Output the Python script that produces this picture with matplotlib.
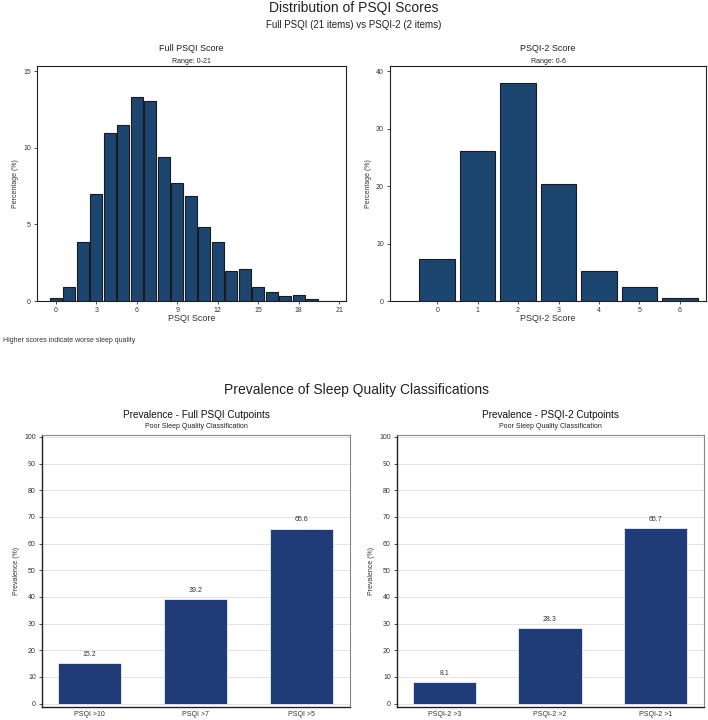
import numpy as np
import matplotlib
matplotlib.use("Agg")
import matplotlib.pyplot as plt

plt.rcParams['font.family'] = ['Liberation Sans', 'DejaVu Sans']

# score distributions (% of sample)
psqi_scores = list(range(0, 22))
psqi_pct = [0.17, 0.9, 3.83, 6.96, 10.98, 11.5, 13.28, 13.04, 9.41, 7.7, 6.87,
            4.83, 3.87, 1.98, 2.11, 0.91, 0.61, 0.30, 0.39, 0.13, 0.03, 0.0]
psqi2_scores = list(range(0, 7))
psqi2_pct = [7.36, 26.09, 37.86, 20.4, 5.28, 2.43, 0.52]

# prevalence by cutpoint
full_labels = ['PSQI >10', 'PSQI >7', 'PSQI >5']
full_prev = [15.2, 39.2, 65.6]
short_labels = ['PSQI-2 >3', 'PSQI-2 >2', 'PSQI-2 >1']
short_prev = [8.1, 28.3, 65.7]

W, H = 708, 720
TOP_COL = '#1c4670'
BOT_COL = '#1f3c78'


def px_axes(fig, x0, y0, x1, y1):
    return fig.add_axes([x0 / W, 1 - y1 / H, (x1 - x0) / W, (y1 - y0) / H])


def hist_panel(ax, x, y, title, sub, xlabel, xlim, ylim, xticks, yticks):
    ax.bar(x, y, width=0.88, color=TOP_COL, edgecolor='#1a1a1a', linewidth=0.8)
    ax.set_xlim(*xlim)
    ax.set_ylim(*ylim)
    ax.set_xticks(xticks)
    ax.set_yticks(yticks)
    ax.tick_params(labelsize=5, length=2.5, width=0.6, colors='#333333', pad=2)
    for s in ax.spines.values():
        s.set_color('#222222')
        s.set_linewidth(0.8)
    ax.set_xlabel(xlabel, fontsize=6.5, labelpad=0, color='#333333')
    ax.set_ylabel('Percentage (%)', fontsize=5, color='#333333', labelpad=3)
    ax.text(0.5, 1.075, title, transform=ax.transAxes, ha='center', va='center',
            fontsize=6.5, color='#222222')
    ax.text(0.5, 1.02, sub, transform=ax.transAxes, ha='center', va='center',
            fontsize=5, color='#222222')


def prev_panel(ax, labels, vals, title, sub):
    x = np.arange(len(labels))
    ax.grid(axis='y', color='#e3e3e3', linewidth=0.7)
    ax.set_axisbelow(True)
    bars = ax.bar(x, vals, width=0.6, color=BOT_COL, edgecolor='white', linewidth=0.5)
    for b, v in zip(bars, vals):
        ax.text(b.get_x() + b.get_width() / 2, v + 3.3, f'{v:.1f}', ha='center',
                va='center', fontsize=5, color='#333333')
    ax.set_xlim(-0.45, 2.46)
    ax.set_ylim(-1.3, 100.7)
    ax.set_xticks(x)
    ax.set_xticklabels(labels)
    ax.set_yticks(range(0, 101, 10))
    ax.tick_params(axis='y', labelsize=5, length=2.5, width=0.6, colors='#333333', pad=2)
    ax.tick_params(axis='x', labelsize=5, length=0, colors='#333333', pad=3)
    ax.spines['left'].set_color('#222222')
    ax.spines['bottom'].set_color('#222222')
    ax.spines['left'].set_linewidth(1.0)
    ax.spines['bottom'].set_linewidth(1.0)
    ax.spines['top'].set_color('#888888')
    ax.spines['right'].set_color('#888888')
    ax.set_ylabel('Prevalence (%)', fontsize=5, color='#333333', labelpad=3)
    ax.text(0.5, 1.075, title, transform=ax.transAxes, ha='center', va='center',
            fontsize=7.2, color='#111111')
    ax.text(0.5, 1.03, sub, transform=ax.transAxes, ha='center', va='center',
            fontsize=5, color='#222222')


def main():
    fig = plt.figure(figsize=(W / 100, H / 100), dpi=100)

    fig.text(0.5, 1 - 8 / H, 'Distribution of PSQI Scores', ha='center', va='center',
             fontsize=10, color='#222222')
    fig.text(0.5, 1 - 25 / H, 'Full PSQI (21 items) vs PSQI-2 (2 items)', ha='center',
             va='center', fontsize=7, color='#222222')

    ax1 = px_axes(fig, 37, 66, 346, 301)
    hist_panel(ax1, psqi_scores, psqi_pct, 'Full PSQI Score', 'Range: 0-21', 'PSQI Score',
               (-1.4, 21.5), (0, 15.33), range(0, 22, 3), [0, 5, 10, 15])

    ax2 = px_axes(fig, 390, 66, 706, 301)
    hist_panel(ax2, psqi2_scores, psqi2_pct, 'PSQI-2 Score', 'Range: 0-6', 'PSQI-2 Score',
               (-1.17, 6.65), (0, 40.87), range(0, 7), [0, 10, 20, 30, 40])

    fig.text(3 / W, 1 - 341 / H, 'Higher scores indicate worse sleep quality', ha='left',
             va='center', fontsize=5, color='#333333')

    fig.text(357 / W, 1 - 390 / H, 'Prevalence of Sleep Quality Classifications',
             ha='center', va='center', fontsize=10, color='#222222')

    ax3 = px_axes(fig, 42, 435, 350, 707)
    prev_panel(ax3, full_labels, full_prev, 'Prevalence - Full PSQI Cutpoints',
               'Poor Sleep Quality Classification')

    ax4 = px_axes(fig, 397, 435, 704, 707)
    prev_panel(ax4, short_labels, short_prev, 'Prevalence - PSQI-2 Cutpoints',
               'Poor Sleep Quality Classification')

    fig.savefig('out.png', dpi=100)


if __name__ == "__main__":
    main()
